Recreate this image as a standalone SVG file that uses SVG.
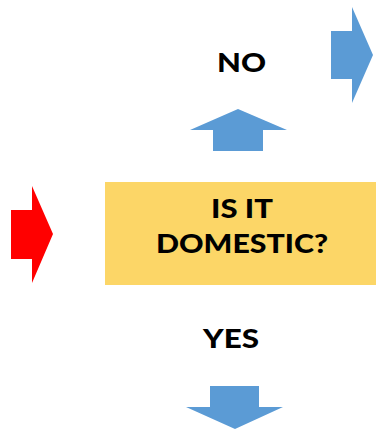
<svg xmlns="http://www.w3.org/2000/svg" width="376" height="429" viewBox="0 0 376 429">
<style>
.blue{fill:#5B9BD5}
.red{fill:#FF0000}
.lbl{font-family:Lato,"Open Sans","DejaVu Sans",sans-serif;font-weight:900;font-size:26px;fill:#000;text-anchor:middle}
</style>
<rect width="376" height="429" fill="#fff"/>
<g id="connectors">
<polygon class="red" points="11,210 32,210 32,186 53,234 32,283 32,259 11,259"/>
<polygon class="blue" points="213,151 213,130 190,130 238,109 287,130 263,130 263,151"/>
<polygon class="blue" points="331,31 352,31 352,7 373,55 352,103 352,79 331,79"/>
<polygon class="blue" points="210,386 259,386 259,407 283,407 235,429 186,407 210,407"/>
</g>
<g id="decision">
<rect x="105" y="182" width="271" height="103" fill="#FCD667"/>
<text class="lbl" x="242" y="218" textLength="62" lengthAdjust="spacingAndGlyphs">IS IT</text>
<text class="lbl" x="242" y="253" textLength="172" lengthAdjust="spacingAndGlyphs">DOMESTIC?</text>
</g>
<g id="no">
<text class="lbl" x="241.5" y="72" textLength="49" lengthAdjust="spacingAndGlyphs">NO</text>
</g>
<g id="yes">
<text class="lbl" x="231" y="348" textLength="56" lengthAdjust="spacingAndGlyphs">YES</text>
</g>
</svg>
